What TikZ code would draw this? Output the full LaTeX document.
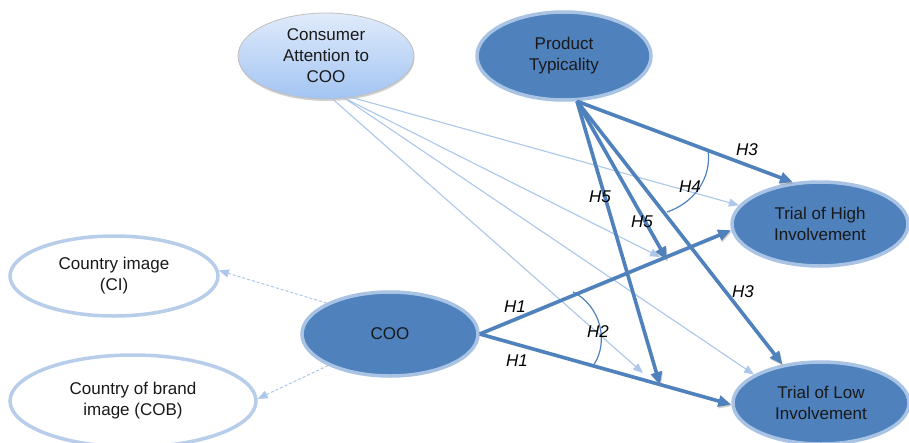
\documentclass[tikz,border=0pt]{standalone}
\usepackage{fontspec}
\setmainfont{Liberation Sans}
\usetikzlibrary{arrows.meta,shapes.geometric,shadows}
\definecolor{darkb}{RGB}{79,129,189}
\definecolor{bordb}{RGB}{168,195,228}
\definecolor{thinb}{RGB}{172,199,233}
\definecolor{whiteb}{RGB}{183,205,233}
\definecolor{catop}{RGB}{224,235,251}
\definecolor{cabot}{RGB}{162,196,242}
\tikzset{
  txt/.style={font=\fontsize{17}{21}\selectfont, align=center, text=black!90},
  darkell/.style={ellipse, txt, fill=darkb, draw=bordb, line width=3.5pt, inner sep=0pt},
  whiteell/.style={ellipse, txt, fill=white, draw=whiteb, line width=3.5pt, inner sep=0pt},
  lightell/.style={ellipse, txt, top color=catop, bottom color=cabot, draw=black!25, line width=0.8pt, inner sep=0pt,
    drop shadow={shadow xshift=0.5pt, shadow yshift=-2pt, opacity=0.35}},
  hyparrow/.style={draw=darkb, line width=3.6pt, -{Triangle[length=13pt,width=11pt]},
    preaction={draw=black!45, opacity=.4, transform canvas={shift={(0.8pt,-1.6pt)}}}},
  thinarr/.style={draw=thinb, line width=1.1pt, -{Triangle[length=10pt,width=8pt]}},
  dasharr/.style={draw=thinb, line width=1pt, dash pattern=on 3pt off 2pt, -{Triangle[length=10pt,width=8pt]}},
  arcline/.style={draw=darkb, line width=1.2pt},
  hlab/.style={font=\fontsize{17}{20}\selectfont\itshape, text=black, inner sep=0pt},
}
\begin{document}
\begin{tikzpicture}[x=1pt,y=-1pt]
\clip (0,0) rectangle (909,442);
\fill[white] (0,0) rectangle (909,442);

% nodes
\node[lightell, minimum width=176pt, minimum height=86pt] (ca) at (326,56) {\raisebox{-2pt}{\parbox{100pt}{\centering Consumer\\Attention to\\COO}}};
\node[darkell, minimum width=174pt, minimum height=88pt] (pt) at (564,56) {Product\\Typicality};
\node[whiteell, minimum width=208pt, minimum height=80pt] (ci) at (114,276) {Country image\\(CI)};
\node[whiteell, minimum width=246pt, minimum height=92pt] (cob) at (133,401) {Country of brand\\image (COB)};
\node[darkell, minimum width=176pt, minimum height=84pt] (coo) at (390,334) {COO};
\node[darkell, minimum width=176pt, minimum height=84pt] (hi) at (820,224) {Trial of High\\Involvement};
\node[darkell, minimum width=176pt, minimum height=82pt] (lo) at (821,403) {Trial of Low\\Involvement};

% free ends on the H1 paths
\coordinate (h5u) at (667,260);
\coordinate (h5l) at (660,385);
\coordinate (thu) at (660,257);
\coordinate (thl) at (643,373);

% thin arrows from consumer attention
\draw[thinarr] (ca.-58) -- (hi.167);
\draw[thinarr] (ca.-66) -- (thu);
\draw[thinarr] (ca.-81) -- (thl);
\draw[thinarr] (ca.-66) -- (lo.157);

% dashed arrows
\draw[dasharr] (coo.154) -- (ci.3);
\draw[dasharr] (coo.207) -- (cob.1);

% thick arrows
\draw[hyparrow] (coo.east) -- (hi.184);
\draw[hyparrow] (coo.east) -- (lo.181);
\draw[hyparrow] (pt.-74) -- (hi.123);
\draw[hyparrow] (pt.-74) -- (lo.135);
\draw[hyparrow] (pt.-74) -- (h5u);
\draw[hyparrow] (pt.-74) -- (h5l);

% arcs
\draw[arcline] (708,150) .. controls (712,178) and (694,203) .. (667,212);
\draw[arcline] (573,292) .. controls (600,305) and (610,342) .. (593,366);

% labels
\node[hlab] (l1) at (747,150) {H3};
\node[hlab] (l2) at (690,187) {H4};
\node[hlab] (l3) at (600,197) {H5};
\node[hlab] (l4) at (642,222) {H5};
\node[hlab] (l5) at (743,292) {H3};
\node[hlab] (l6) at (598,332) {H2};
\node[hlab] (l7) at (515,307) {H1};
\node[hlab] (l8) at (517,361) {H1};
\end{tikzpicture}
\end{document}
